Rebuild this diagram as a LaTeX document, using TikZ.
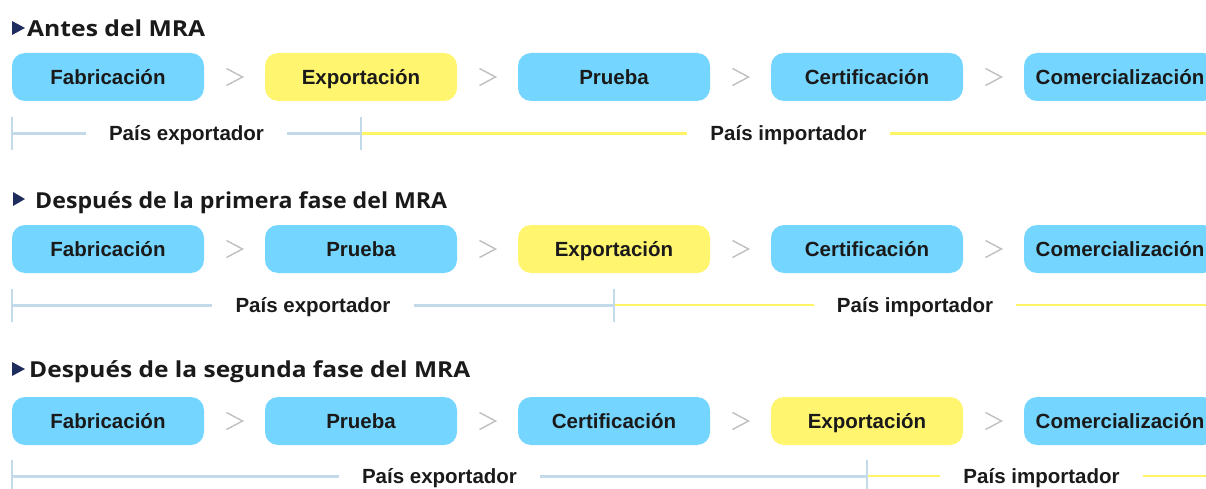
\documentclass[tikz,border=0pt]{standalone}
\usepackage{graphicx}
\usepackage{fontspec}
\setmainfont{Liberation Sans}
\newfontfamily\titlefont{Open Sans}
\usetikzlibrary{calc}
\definecolor{boxblue}{RGB}{116,213,255}
\definecolor{boxyellow}{RGB}{255,245,110}
\definecolor{linblue}{RGB}{194,218,234}
\definecolor{linyellow}{RGB}{255,244,102}
\definecolor{chev}{RGB}{192,192,192}
\definecolor{navy}{RGB}{31,45,94}
\definecolor{txt}{RGB}{26,26,26}
\tikzset{
  stage/.style={rounded corners=13pt, minimum width=192pt, minimum height=48pt,
    inner sep=0pt, text height=14.7pt, text depth=0pt,
    font=\fontsize{20.5}{22}\selectfont\bfseries, text=txt},
  bstage/.style={stage, fill=boxblue},
  ystage/.style={stage, fill=boxyellow},
  chevron/.style={draw=chev, line width=1.4pt},
  country/.style={anchor=base, font=\fontsize{20.5}{22}\selectfont\bfseries,
    text=txt, inner xsep=23pt, inner ysep=0pt},
  expline/.style={draw=linblue, line width=3pt},
  impline/.style={draw=linyellow, line width=2.5pt},
  tickmark/.style={draw=linblue, line width=2.2pt},
  rowtitle/.style={anchor=base west, inner sep=0pt,
    font=\titlefont\fontsize{22}{24}\selectfont\bfseries, text=txt},
  marker/.style={fill=navy}
}
\begin{document}
\begin{tikzpicture}[x=1pt,y=-1pt]
\useasboundingbox (0,0) rectangle (1206,489);
\clip (0,0) rectangle (1206,489);
\fill[white] (0,0) rectangle (1206,489);

% ---------- Row 1 ----------
\fill[marker] (12,21) -- (25,28) -- (12,35) -- cycle;
\node[rowtitle] (t1) at (27,37) {\resizebox{178pt}{\height}{Antes del MRA}};
\node[bstage] (a1) at (108,77) {Fabricación};
\node[ystage] (a2) at (361,77) {Exportación};
\node[bstage] (a3) at (614,77) {Prueba};
\node[bstage] (a4) at (867,77) {Certificación};
\node[bstage] (a5) at (1120,77) {Comercialización};
\foreach \p/\q in {a1/a2,a2/a3,a3/a4,a4/a5}{
  \coordinate (c) at ($(\p.east)!0.5!(\q.west)$);
  \draw[chevron] ([shift={(-8,-8.5)}]c) -- ([shift={(8,0)}]c) -- ([shift={(-8,8.5)}]c);
}
\coordinate (s1) at (12,133.5);
\coordinate (m1) at (a2 |- s1);
\coordinate (e1) at (1216,133.5);
\node[country] (ex1) at ([yshift=-7pt]$(s1)!0.5!(m1)$) {País exportador};
\node[country] (im1) at ([yshift=-7pt]$(m1)!0.5!(e1)$) {País importador};
\draw[expline] (s1) -- (ex1.west |- s1);
\draw[expline] (ex1.east |- s1) -- (m1);
\draw[impline] (m1) -- (im1.west |- s1);
\draw[impline] (im1.east |- s1) -- (e1);
\draw[tickmark] ([yshift=16.5pt]s1) -- ([yshift=-16.5pt]s1);
\draw[tickmark] ([yshift=16.5pt]m1) -- ([yshift=-16.5pt]m1);

% ---------- Row 2 ----------
\fill[marker] (13,192) -- (25,199) -- (13,206) -- cycle;
\node[rowtitle] (t2) at (35,208) {\resizebox{412pt}{\height}{Después de la primera fase del MRA}};
\node[bstage] (b1) at (108,249) {Fabricación};
\node[bstage] (b2) at (361,249) {Prueba};
\node[ystage] (b3) at (614,249) {Exportación};
\node[bstage] (b4) at (867,249) {Certificación};
\node[bstage] (b5) at (1120,249) {Comercialización};
\foreach \p/\q in {b1/b2,b2/b3,b3/b4,b4/b5}{
  \coordinate (c) at ($(\p.east)!0.5!(\q.west)$);
  \draw[chevron] ([shift={(-8,-8.5)}]c) -- ([shift={(8,0)}]c) -- ([shift={(-8,8.5)}]c);
}
\coordinate (s2) at (12,305);
\coordinate (m2) at (b3 |- s2);
\coordinate (e2) at (1216,305);
\node[country] (ex2) at ([yshift=-7pt]$(s2)!0.5!(m2)$) {País exportador};
\node[country] (im2) at ([yshift=-7pt]$(m2)!0.5!(e2)$) {País importador};
\draw[expline] (s2) -- (ex2.west |- s2);
\draw[expline] (ex2.east |- s2) -- (m2);
\draw[impline] (m2) -- (im2.west |- s2);
\draw[impline] (im2.east |- s2) -- (e2);
\draw[tickmark] ([yshift=16.5pt]s2) -- ([yshift=-16.5pt]s2);
\draw[tickmark] ([yshift=16.5pt]m2) -- ([yshift=-16.5pt]m2);

% ---------- Row 3 ----------
\fill[marker] (12,362) -- (25,369) -- (12,376) -- cycle;
\node[rowtitle] (t3) at (29,377) {\resizebox{441pt}{\height}{Después de la segunda fase del MRA}};
\node[bstage] (d1) at (108,421) {Fabricación};
\node[bstage] (d2) at (361,421) {Prueba};
\node[bstage] (d3) at (614,421) {Certificación};
\node[ystage] (d4) at (867,421) {Exportación};
\node[bstage] (d5) at (1120,421) {Comercialización};
\foreach \p/\q in {d1/d2,d2/d3,d3/d4,d4/d5}{
  \coordinate (c) at ($(\p.east)!0.5!(\q.west)$);
  \draw[chevron] ([shift={(-8,-8.5)}]c) -- ([shift={(8,0)}]c) -- ([shift={(-8,8.5)}]c);
}
\coordinate (s3) at (12,476);
\coordinate (m3) at (d4 |- s3);
\coordinate (e3) at (1216,476);
\node[country] (ex3) at ([yshift=-7pt]$(s3)!0.5!(m3)$) {País exportador};
\node[country] (im3) at ([yshift=-7pt]$(m3)!0.5!(e3)$) {País importador};
\draw[expline] (s3) -- (ex3.west |- s3);
\draw[expline] (ex3.east |- s3) -- (m3);
\draw[impline] (m3) -- (im3.west |- s3);
\draw[impline] (im3.east |- s3) -- (e3);
\draw[tickmark] ([yshift=16.5pt]s3) -- ([yshift=-16.5pt]s3);
\draw[tickmark] ([yshift=16.5pt]m3) -- ([yshift=-16.5pt]m3);
\end{tikzpicture}
\end{document}
